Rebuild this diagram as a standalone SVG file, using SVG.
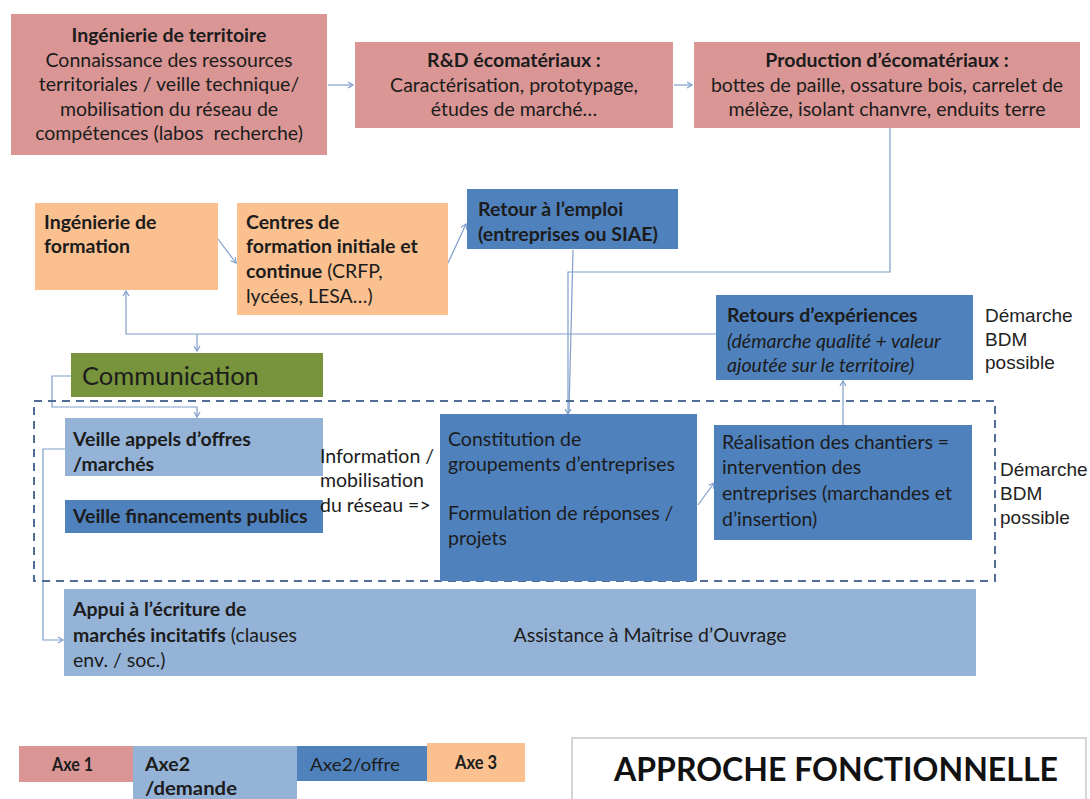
<svg xmlns="http://www.w3.org/2000/svg" width="1090" height="799" viewBox="0 0 1090 799">
<defs>
<style>
.t{font-family:Lato,"Liberation Sans",sans-serif;font-size:19.5px;fill:#1c1c1c}
.b{font-weight:bold}
.i{font-style:italic}
.c{text-anchor:middle}
.h{font-family:"Liberation Sans",Arial,sans-serif;font-size:19px;fill:#222}
.lg{font-family:Lato,"Liberation Sans",sans-serif;font-size:18px;fill:#1c1c1c}
.pink{fill:#D99694}
.orange{fill:#FAC090}
.lb{fill:#95B3D7}
.db{fill:#4F81BD}
.green{fill:#77933C}
.con{fill:none;stroke:#7F9DCB;stroke-width:1.2}
</style>
<marker id="arr" markerWidth="8" markerHeight="8" refX="6" refY="4" orient="auto" markerUnits="userSpaceOnUse">
<path d="M1,1 L6,4 L1,7" fill="none" stroke="#7F9DCB" stroke-width="1.2"/>
</marker>
</defs>
<rect width="1090" height="799" fill="#fff"/>

<g id="connectors">
<path class="con" d="M328,85 L353,85" marker-end="url(#arr)"/>
<path class="con" d="M674,85 L692,85" marker-end="url(#arr)"/>
<path class="con" d="M890,128 L890,272 L568,272 L568,414" marker-end="url(#arr)"/>
<path class="con" d="M573,250 L569,412"/>
<path class="con" d="M218,239 L236,263" marker-end="url(#arr)"/>
<path class="con" d="M448,263 L466,224" marker-end="url(#arr)"/>
<path class="con" d="M716,334 L126,334 L126,291" marker-end="url(#arr)"/>
<path class="con" d="M197,334 L197,351" marker-end="url(#arr)"/>
<path class="con" d="M71,376 L52,376 L52,407 L197,407 L197,417" marker-end="url(#arr)"/>
<path class="con" d="M65,449 L43,449 L43,640 L63,640" marker-end="url(#arr)"/>
<path class="con" d="M698,505 L714,483" marker-end="url(#arr)"/>
<path class="con" d="M843,425 L843,381" marker-end="url(#arr)"/>
</g>

<g id="zone-dashed">
<rect x="34" y="401" width="961" height="180" fill="none" stroke="#4F6D95" stroke-width="2" stroke-dasharray="8 6"/>
</g>

<g id="ingenierie-territoire">
<rect class="pink" x="11" y="14" width="316" height="141"/>
<text class="t b c" x="169" y="42">Ingénierie de territoire</text>
<text class="t c" x="169" y="67">Connaissance des ressources</text>
<text class="t c" x="169" y="91">territoriales / veille technique/</text>
<text class="t c" x="169" y="116">mobilisation du réseau de</text>
<text class="t c" x="169" y="140" xml:space="preserve">compétences (labos  recherche)</text>
</g>

<g id="rd-ecomateriaux">
<rect class="pink" x="355" y="42" width="318" height="86"/>
<text class="t b c" x="514" y="67">R&amp;D écomatériaux :</text>
<text class="t c" x="514" y="92">Caractérisation, prototypage,</text>
<text class="t c" x="514" y="116">études de marché…</text>
</g>

<g id="production-ecomateriaux">
<rect class="pink" x="694" y="42" width="386" height="86"/>
<text class="t b c" x="887" y="67">Production d’écomatériaux :</text>
<text class="t c" x="887" y="92">bottes de paille, ossature bois, carrelet de</text>
<text class="t c" x="887" y="116">mélèze, isolant chanvre, enduits terre</text>
</g>

<g id="ingenierie-formation">
<rect class="orange" x="35" y="203" width="183" height="87"/>
<text class="t b" x="44" y="229">Ingénierie de</text>
<text class="t b" x="44" y="253">formation</text>
</g>

<g id="centres-formation">
<rect class="orange" x="237" y="203" width="211" height="112"/>
<text class="t b" x="246" y="229">Centres de</text>
<text class="t b" x="246" y="253">formation initiale et</text>
<text class="t" x="246" y="278"><tspan class="b">continue</tspan> (CRFP,</text>
<text class="t" x="246" y="303">lycées, LESA…)</text>
</g>

<g id="retour-emploi">
<rect class="db" x="467" y="189" width="211" height="60"/>
<text class="t b" x="478" y="216">Retour à l’emploi</text>
<text class="t b" x="478" y="241">(entreprises ou SIAE)</text>
</g>

<g id="retours-experiences">
<rect class="db" x="716" y="295" width="257" height="85"/>
<text class="t b" x="727" y="322">Retours d’expériences</text>
<text class="t i" x="727" y="348">(démarche qualité + valeur</text>
<text class="t i" x="727" y="372">ajoutée sur le territoire)</text>
</g>

<g id="bdm-1">
<text class="h" x="985" y="322">Démarche</text>
<text class="h" x="985" y="346">BDM</text>
<text class="h" x="985" y="369">possible</text>
</g>

<g id="communication">
<rect class="green" x="71" y="353" width="252" height="44"/>
<text class="t" x="82" y="385" style="font-size:25.5px">Communication</text>
</g>

<g id="veille-appels">
<rect class="lb" x="65" y="418" width="258" height="58"/>
<text class="t b" x="73" y="446">Veille appels d’offres</text>
<text class="t b" x="73" y="471">/marchés</text>
</g>

<g id="veille-financements">
<rect class="db" x="65" y="500" width="258" height="33"/>
<text class="t b" x="73" y="523">Veille financements publics</text>
</g>

<g id="information">
<text class="t" x="320" y="463">Information /</text>
<text class="t" x="320" y="487">mobilisation</text>
<text class="t" x="320" y="512">du réseau =&gt;</text>
</g>

<g id="constitution">
<rect class="db" x="440" y="414" width="257" height="167"/>
<text class="t" x="448" y="446">Constitution de</text>
<text class="t" x="448" y="471">groupements d’entreprises</text>
<text class="t" x="448" y="520">Formulation de réponses /</text>
<text class="t" x="448" y="545">projets</text>
</g>

<g id="realisation">
<rect class="db" x="714" y="425" width="258" height="115"/>
<text class="t" x="722" y="449">Réalisation des chantiers =</text>
<text class="t" x="722" y="474">intervention des</text>
<text class="t" x="722" y="500">entreprises (marchandes et</text>
<text class="t" x="722" y="526">d’insertion)</text>
</g>

<g id="bdm-2">
<text class="h" x="1000" y="476">Démarche</text>
<text class="h" x="1000" y="500">BDM</text>
<text class="h" x="1000" y="524">possible</text>
</g>

<g id="appui">
<rect class="lb" x="64" y="589" width="912" height="87"/>
<text class="t b" x="73" y="616">Appui à l’écriture de</text>
<text class="t" x="73" y="642"><tspan class="b">marchés incitatifs</tspan> (clauses</text>
<text class="t" x="73" y="667">env. / soc.)</text>
<text class="t c" x="650" y="642">Assistance à Maîtrise d’Ouvrage</text>
</g>

<g id="legend">
<rect class="pink" x="19" y="746" width="114" height="36"/>
<rect class="lb" x="133" y="746" width="164" height="53"/>
<rect class="db" x="297" y="746" width="130" height="35"/>
<rect class="orange" x="427" y="743" width="98" height="39"/>
<text class="lg b" x="52" y="771" textLength="41" lengthAdjust="spacingAndGlyphs">Axe 1</text>
<text class="lg b" x="145" y="771" textLength="45" lengthAdjust="spacingAndGlyphs">Axe2</text>
<text class="lg b" x="145" y="795" textLength="92" lengthAdjust="spacingAndGlyphs">/demande</text>
<text class="lg" x="310" y="771" textLength="90" lengthAdjust="spacingAndGlyphs">Axe2/offre</text>
<text class="lg b" x="455" y="769" textLength="42" lengthAdjust="spacingAndGlyphs">Axe 3</text>
</g>

<g id="title">
<rect x="572" y="738" width="514" height="66" fill="#fff" stroke="#C8C8C8" stroke-width="1.5"/>
<text class="t b c" x="836" y="781" style="font-size:32px;fill:#111" textLength="444" lengthAdjust="spacingAndGlyphs">APPROCHE FONCTIONNELLE</text>
</g>
</svg>
